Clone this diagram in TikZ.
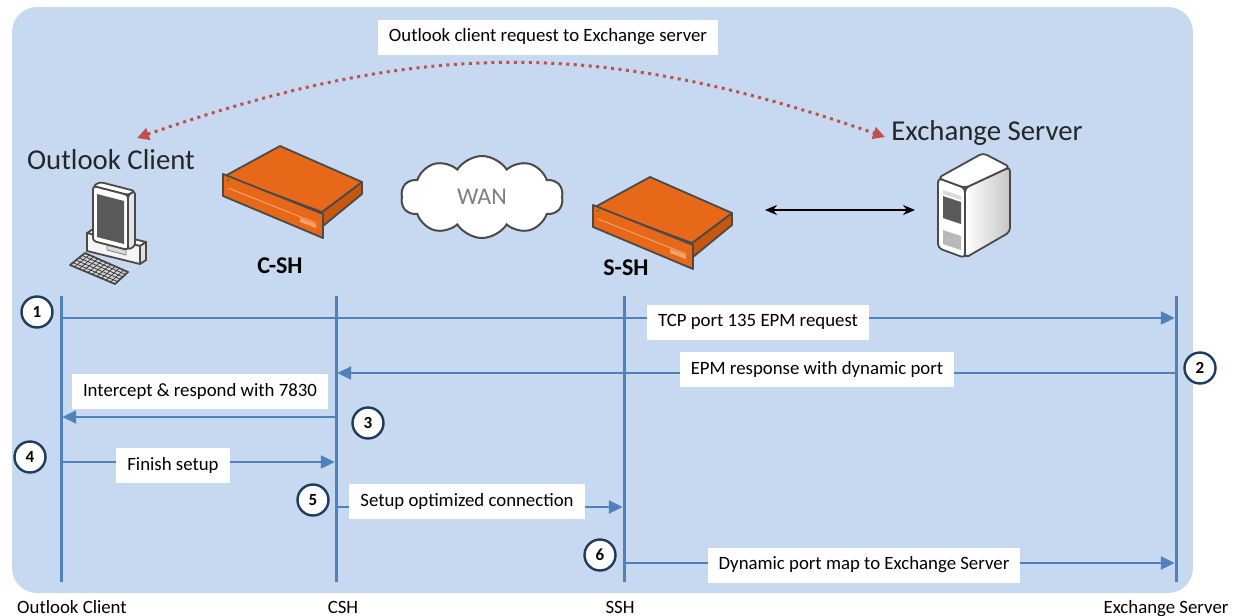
\documentclass[tikz,border=0pt]{standalone}
\usepackage{fontspec}
\setmainfont{Carlito}
\usetikzlibrary{arrows.meta,shapes.symbols,calc}

\definecolor{panelblue}{HTML}{C6D9F0}
\definecolor{lineblue}{HTML}{4F81BD}
\definecolor{stepnavy}{HTML}{1F3A5F}
\definecolor{dotred}{HTML}{C0504D}
\definecolor{shorange}{HTML}{E8681A}
\definecolor{shdark}{HTML}{C9560F}
\definecolor{shlight}{HTML}{F6A36A}
\definecolor{iconedge}{HTML}{4A4A4A}

\tikzset{
  lifeline/.style={lineblue,line width=1.5pt},
  msg/.style={lineblue,line width=1pt,-{Triangle[length=7pt,width=6.5pt]},shorten >=0.6pt},
  msglabel/.style={fill=white,inner xsep=5.5pt,inner ysep=0pt,minimum height=17.5pt,
    font=\fontsize{9.4}{11}\selectfont},
  stepnum/.style={circle,draw=stepnavy,line width=1.2pt,fill=white,minimum size=15.5pt,
    inner sep=0pt,font=\bfseries\fontsize{8.5}{10}\selectfont},
  bigname/.style={font=\fontsize{14.4}{17}\selectfont,text=black!85},
  devname/.style={font=\bfseries\fontsize{12}{14}\selectfont},
  axisname/.style={font=\fontsize{9.4}{11}\selectfont,anchor=base},
  reqarc/.style={dotred,line width=1.5pt,dash pattern=on 1.5pt off 2.25pt,
    {Triangle[length=6pt,width=6pt]}-{Triangle[length=6pt,width=6pt]}},
  icon/.style={draw=iconedge,line width=0.9pt,line join=round},
  % steelhead appliance, origin at the back corner of the lid
  appliance/.pic={
    \filldraw[icon,fill=shdark] (42,66) -- (82,36) -- (82,48) -- (43,80) -- cycle;
    \filldraw[icon,fill=shorange] (0,0) -- (82,36) -- (42,66) -- (-55,30) -- cycle;
    \filldraw[icon,fill=shorange] (-57,28) -- (43,68) -- (43,92) -- (-57,50) -- cycle;
    \draw[shlight,line width=0.5pt] (-52,42) -- (36,77);
    \fill[green!60!black] (-52,34) circle (1.2);
    \fill[shlight] (20,72) -- (36,78) -- (36,82) -- (20,76) -- cycle;
  }
}

\begin{document}
\begin{tikzpicture}[x=0.5pt,y=-0.5pt]

\useasboundingbox (0,0) rectangle (1238,616);
\fill[panelblue,rounded corners=12.5pt] (12,7) rectangle (1193,593);

% client pc: base, monitor, keyboard
\filldraw[icon,fill=white] (87,233) -- (93,229) -- (146,242) -- (140,246) -- cycle;
\filldraw[icon,fill=gray!25] (140,246) -- (146,242) -- (146,260) -- (140,264) -- cycle;
\filldraw[icon,fill=gray!8] (87,233) -- (140,246) -- (140,264) -- (87,251) -- cycle;
\filldraw[gray,fill=gray!30,line width=0.4pt] (107,244) -- (126,249) -- (126,255) -- (107,250) -- cycle;
\filldraw[icon,fill=white,rounded corners=1.5pt] (93,186) -- (100,182) -- (135,191) -- (128,195) -- cycle;
\filldraw[icon,fill=gray!20,rounded corners=1.5pt] (128,195) -- (135,191) -- (135,246) -- (128,250) -- cycle;
\filldraw[icon,fill=white,rounded corners=1.5pt] (93,186) -- (128,195) -- (128,250) -- (93,241) -- cycle;
\fill[gray!70!black] (97,194) -- (124,201) -- (124,244) -- (97,237) -- cycle;
\filldraw[icon,fill=gray!35] (85,253) -- (128,272) -- (115,284) -- (70,265) -- cycle;
\foreach \k in {0.2,0.4,0.6,0.8}
  \draw[gray!40!black,line width=0.35pt] ($(85,253)!\k!(70,265)$) -- ($(128,272)!\k!(115,284)$);
\foreach \k in {0.1,0.2,...,0.9}
  \draw[gray!40!black,line width=0.35pt] ($(85,253)!\k!(128,272)$) -- ($(70,265)!\k!(115,284)$);

% exchange server box
\shadedraw[icon,left color=white,right color=gray!45,rounded corners=2pt] (965,188) -- (1010,167) -- (1010,232) -- (965,258) -- cycle;
\filldraw[icon,fill=white,rounded corners=2pt] (938,178) -- (965,188) -- (965,258) -- (938,248) -- cycle;
\filldraw[icon,fill=white,rounded corners=2pt] (938,178) -- (983,153) -- (1010,167) -- (965,188) -- cycle;
\fill[gray!30] (943,190) -- (961,196) -- (961,200) -- (943,194) -- cycle;
\fill[gray!70!black] (943,196) -- (961,202) -- (961,224) -- (943,218) -- cycle;
\fill[gray!55] (943,230) -- (961,236) -- (961,250) -- (943,244) -- cycle;

% appliances and wan
\pic at (280,146) {appliance};
\pic at (650,177) {appliance};
\node[cloud,cloud puffs=10,cloud puff arc=115,aspect=2,draw=iconedge,line width=1pt,
  fill=white,minimum width=81pt,minimum height=41pt,text=gray,
  font=\fontsize{12}{14}\selectfont] (wan) at (482,197) {WAN};

\node[bigname] (oc-big) at (111,160) {Outlook Client};
\node[bigname] (exs-big) at (987,133) {Exchange Server};
\node[devname] (csh-dev) at (280,266) {C-SH};
\node[devname] (ssh-dev) at (626,268) {S-SH};

\coordinate (ssh-link) at (765,210);
\coordinate (srv-link) at (915,210);
\draw[black,line width=1pt,{Stealth[length=6pt,width=5pt]}-{Stealth[length=6pt,width=5pt]}] (ssh-link) -- (srv-link);

% request arc over the top
\node[msglabel] (req) at (548,37) {Outlook client request to Exchange server};
\coordinate (arc-l) at (137,138);
\coordinate (arc-r) at (885,137);
\draw[reqarc] (arc-l) .. controls (421,39) and (601,38) .. (arc-r);

% lifelines
\foreach \name/\x in {oc/61,csh/336,ssh/624,exs/1176} {
  \coordinate (\name-top) at (\x,296);
  \coordinate (\name-bot) at (\x,582);
}
\foreach \name/\y in {r1/318,r2/373,r3/417,r4/462,r5/507,r6/563}
  \coordinate (\name) at (0,\y);

\draw[msg] (oc-top |- r1) -- (exs-top |- r1);
\draw[msg] (exs-top |- r2) -- (csh-top |- r2);
\draw[msg] (csh-top |- r3) -- (oc-top |- r3);
\draw[msg] (oc-top |- r4) -- (csh-top |- r4);
\draw[msg] (csh-top |- r5) -- (ssh-top |- r5);
\draw[msg] (ssh-top |- r6) -- (exs-top |- r6);

\foreach \name in {oc,csh,ssh,exs}
  \draw[lifeline] (\name-top) -- (\name-bot);

\node[msglabel] (m1) at (758,322) {TCP port 135 EPM request};
\node[msglabel] (m2) at (817,369) {EPM response with dynamic port};
\node[msglabel] (m3) at (200,391) {Intercept \& respond with 7830};
\node[msglabel] (m4) at (173,465) {Finish setup};
\node[msglabel] (m5) at (467,501) {Setup optimized connection};
\node[msglabel] (m6) at (864,565) {Dynamic port map to Exchange Server};

\node[stepnum] (s1) at (37,312) {1};
\node[stepnum] (s2) at (1200,368) {2};
\node[stepnum] (s3) at (368,423) {3};
\node[stepnum] (s4) at (30,457) {4};
\node[stepnum] (s5) at (313,500) {5};
\node[stepnum] (s6) at (600,555) {6};

\node[axisname] (oc-name) at (72,613) {Outlook Client};
\node[axisname] (csh-name) at (343,613) {CSH};
\node[axisname] (ssh-name) at (620,613) {SSH};
\node[axisname] (exs-name) at (1166,613) {Exchange Server};

\end{tikzpicture}
\end{document}
